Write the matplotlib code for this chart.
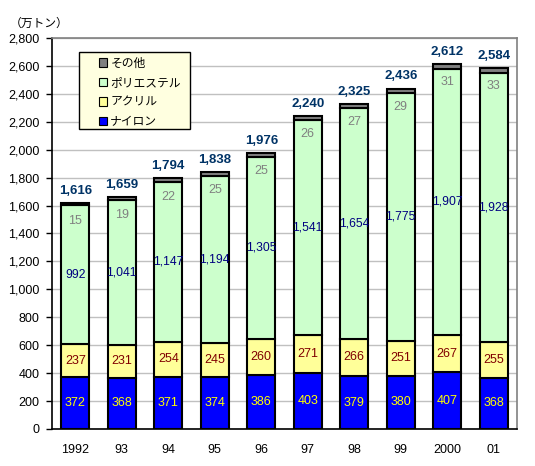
import matplotlib
matplotlib.use("Agg")
import matplotlib.pyplot as plt
import numpy as np
from matplotlib.patches import Rectangle
from matplotlib.ticker import FuncFormatter

plt.rcParams["font.family"] = ["Noto Sans CJK JP", "DejaVu Sans"]
NUM_FONT = ["Liberation Sans", "DejaVu Sans"]

years = ["1992", "93", "94", "95", "96", "97", "98", "99", "2000", "01"]
nylon = [372, 368, 371, 374, 386, 403, 379, 380, 407, 368]
acrylic = [237, 231, 254, 245, 260, 271, 266, 251, 267, 255]
polyester = [992, 1041, 1147, 1194, 1305, 1541, 1654, 1775, 1907, 1928]
other = [15, 19, 22, 25, 25, 26, 27, 29, 31, 33]
totals = [1616, 1659, 1794, 1838, 1976, 2240, 2325, 2436, 2612, 2584]

series = [
    ("ナイロン", nylon, "#0000FF", "#FFFF00"),
    ("アクリル", acrylic, "#FFFF99", "#800000"),
    ("ポリエステル", polyester, "#CCFFCC", "#000080"),
    ("その他", other, "#808080", "#808080"),
]

fig = plt.figure(figsize=(5.35, 4.66), dpi=100)
ax = fig.add_axes([0.0972, 0.0794, 0.8692, 0.8391])

x = np.arange(len(years))
bottom = np.zeros(len(years))
handles = []
for name, vals, color, lab_color in series:
    vals = np.array(vals, dtype=float)
    bars = ax.bar(x, vals, 0.6, bottom=bottom, color=color,
                  edgecolor="black", linewidth=1.5, zorder=3, label=name)
    handles.append(bars)
    if name == "その他":
        # small segment: label sits just under the top of the bar
        for xi, top, v in zip(x, bottom + vals, vals):
            ax.annotate(f"{int(v)}", (xi, top), xytext=(0, -13),
                        textcoords="offset points", ha="center", va="center",
                        color=lab_color, fontsize=9, family=NUM_FONT, zorder=4)
    else:
        fs = 8.7 if name == "ポリエステル" else 9
        for xi, b, v in zip(x, bottom, vals):
            ax.text(xi, b + v / 2, f"{int(v):,}", ha="center", va="center",
                    color=lab_color, fontsize=fs, family=NUM_FONT, zorder=4)
    bottom += vals

for xi, top, t in zip(x, bottom, totals):
    ax.annotate(f"{t:,}", (xi, top), xytext=(0, 9), textcoords="offset points",
                ha="center", va="center", color="#003366", fontsize=9.5,
                fontweight="bold", family=NUM_FONT)

ax.set_xlim(-0.5, len(years) - 0.5)
ax.set_ylim(0, 2800)
ax.set_yticks(np.arange(0, 2801, 200))
ax.yaxis.set_major_formatter(FuncFormatter(lambda v, p: f"{int(v):,}"))
ax.set_xticks(x)
ax.set_xticklabels(years)
ax.tick_params(axis="x", length=0, pad=11, labelsize=9)
ax.tick_params(axis="y", length=4, width=1, labelsize=9, pad=5)
for lab in ax.get_xticklabels() + ax.get_yticklabels():
    lab.set_family(NUM_FONT)
ax.grid(axis="y", color="#C0C0C0", linewidth=1, zorder=0)
ax.set_axisbelow(True)

for s in ("left", "bottom"):
    ax.spines[s].set_color("black")
    ax.spines[s].set_linewidth(1.2)
for s in ("top", "right"):
    ax.spines[s].set_color("#808080")
    ax.spines[s].set_linewidth(1.2)

fig.text(0.018, 0.95, "（万トン）", fontsize=8.5, ha="left", va="center")

# legend box drawn separately so the padding matches the original
ax.add_patch(Rectangle((0.058, 0.767), 0.239, 0.197, transform=ax.transAxes,
                       facecolor="#FFFFE0", edgecolor="black", linewidth=1.0,
                       zorder=5))
leg = ax.legend(handles[::-1], [s[0] for s in series[::-1]],
                loc="upper left", bbox_to_anchor=(0.1, 0.952),
                borderaxespad=0, borderpad=0, fontsize=8.5, frameon=False,
                handlelength=0.75, handleheight=0.75, handletextpad=0.25,
                labelspacing=0.55)
leg.set_zorder(6)
for h in leg.legend_handles:
    h.set_linewidth(0.8)

fig.savefig("out.png", dpi=100)
